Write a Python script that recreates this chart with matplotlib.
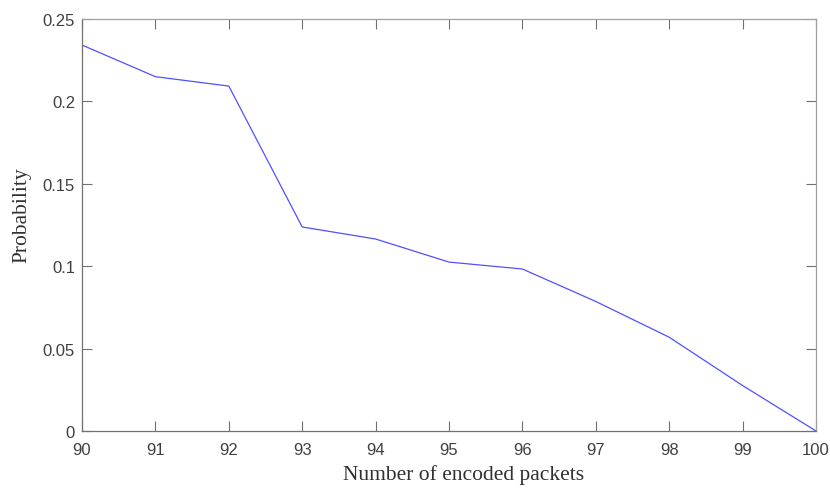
import matplotlib
matplotlib.use("Agg")
import matplotlib.pyplot as plt

# datos
packets = [90, 91, 92, 93, 94, 95, 96, 97, 98, 99, 100]
probability = [0.2342, 0.2150, 0.2093, 0.1238, 0.1165, 0.1025, 0.0983,
               0.0786, 0.0569, 0.0276, 0.0]
y_ticks = [0, 0.05, 0.1, 0.15, 0.2, 0.25]
y_tick_labels = ['0', '0.05', '0.1', '0.15', '0.2', '0.25']

fig = plt.figure(figsize=(8.3, 4.89), dpi=100)
ax = fig.add_axes([82 / 830, 57 / 489, 734 / 830, 412 / 489])

ax.plot(packets, probability, color='#5050ff', linewidth=0.9)

ax.set_xlim(90, 100)
ax.set_ylim(0, 0.25)
ax.set_xticks(packets)
ax.set_yticks(y_ticks)
ax.set_yticklabels(y_tick_labels)

for lab in ax.get_xticklabels() + ax.get_yticklabels():
    lab.set_fontfamily(['Liberation Sans', 'DejaVu Sans'])
    lab.set_fontsize(12)
    lab.set_color('#404040')

ax.tick_params(axis='both', direction='in', length=7, width=0.8,
               color='#707070', top=True, right=True)
ax.tick_params(axis='x', pad=8)
ax.tick_params(axis='y', pad=5)

for side in ['left', 'bottom']:
    ax.spines[side].set_color('#707070')
    ax.spines[side].set_linewidth(0.9)
for side in ['top', 'right']:
    ax.spines[side].set_color('#a0a0a0')
    ax.spines[side].set_linewidth(0.9)

# etiquetas de ejes
label_font = ['Liberation Serif', 'DejaVu Serif']
fig.text(464 / 830, 1 - 475 / 489, 'Number of encoded packets',
         family=label_font, size=15.5, color='#303030',
         ha='center', va='center')
fig.text(22 / 830, 1 - 215 / 489, 'Probability', rotation=90,
         family=label_font, size=15.5, color='#303030',
         ha='center', va='center')

fig.savefig('out.png', dpi=100)
